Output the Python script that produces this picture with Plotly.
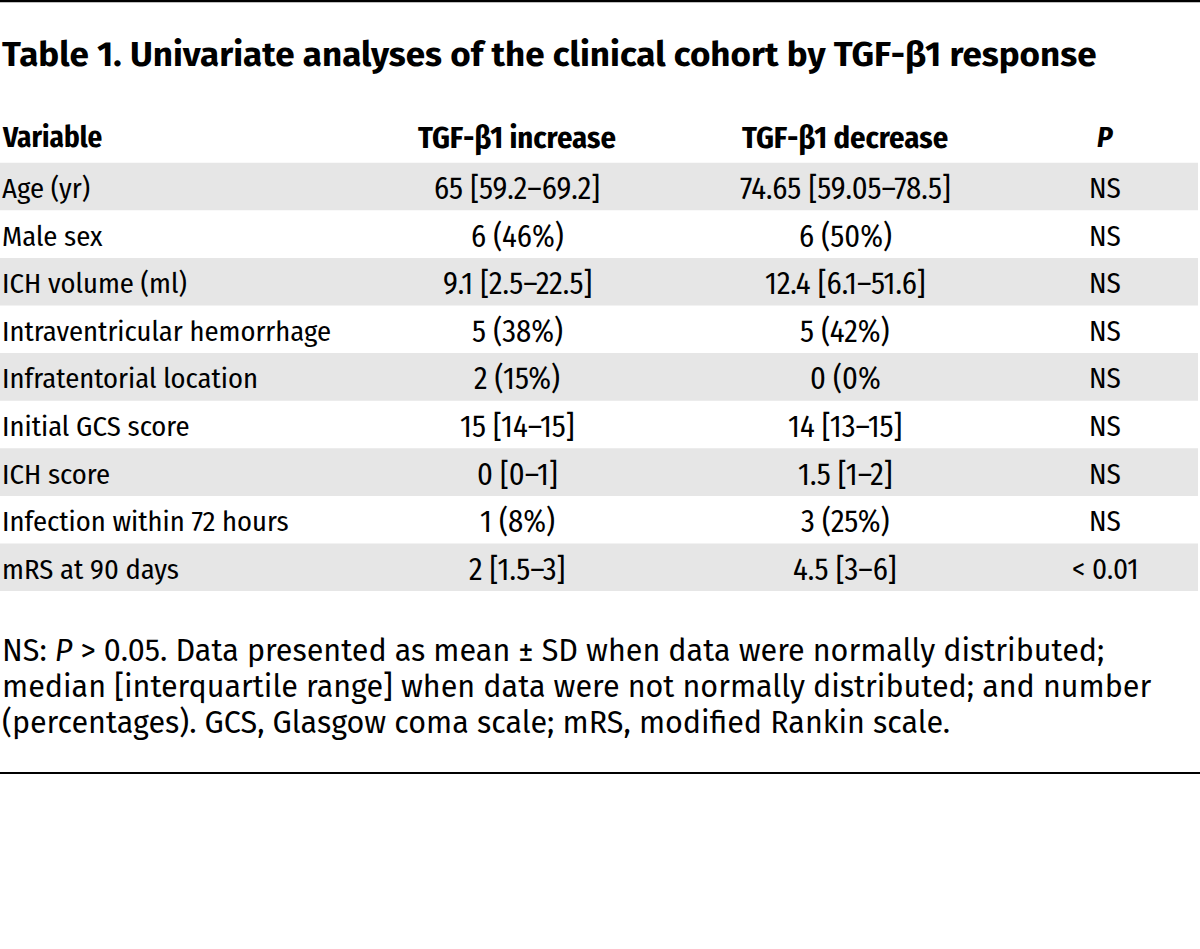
import plotly.graph_objects as go

title = "Table 1. Univariate analyses of the clinical cohort by TGF-β1 response"
headers = ["Variable", "TGF-β1 increase", "TGF-β1 decrease", "<i>P</i>"]
variables = ["Age (yr)", "Male sex", "ICH volume (ml)", "Intraventricular hemorrhage",
             "Infratentorial location", "Initial GCS score", "ICH score",
             "Infection within 72 hours", "mRS at 90 days"]
increase = ["65 [59.2–69.2]", "6 (46%)", "9.1 [2.5–22.5]", "5 (38%)", "2 (15%)",
            "15 [14–15]", "0 [0–1]", "1 (8%)", "2 [1.5–3]"]
decrease = ["74.65 [59.05–78.5]", "6 (50%)", "12.4 [6.1–51.6]", "5 (42%)", "0 (0%",
            "14 [13–15]", "1.5 [1–2]", "3 (25%)", "4.5 [3–6]"]
p_values = ["NS", "NS", "NS", "NS", "NS", "NS", "NS", "NS", "< 0.01"]
footnote = ["NS: <i>P</i> > 0.05. Data presented as mean ± SD when data were normally distributed;",
            "median [interquartile range] when data were not normally distributed; and number",
            "(percentages). GCS, Glasgow coma scale; mRS, modified Rankin scale."]

W, H = 1200, 949
COND = "Fira Sans Condensed, Roboto Condensed, sans-serif"
FOOT = "Fira Sans, Open Sans, sans-serif"
col_x = [0, 517, 845, 1105]
col_anchor = ["left", "center", "center", "center"]
col_size = [28.5, 30.5, 30.5, 29]
header_size = [29, 30.5, 30.5, 29]
row0_y = 186.5
row_h = 47.6
header_y = 137
band_color = "#e6e6e6"

fig = go.Figure()
fig.add_trace(go.Scatter(x=[0, W], y=[0, H], mode="markers", marker=dict(opacity=0),
                         hoverinfo="skip", showlegend=False))

shapes = []
annotations = []

# top and bottom rules
shapes.append(dict(type="line", x0=0, x1=W, y0=1, y1=1, line=dict(color="#000", width=2.5), layer="above"))
shapes.append(dict(type="line", x0=0, x1=W, y0=773, y1=773, line=dict(color="#000", width=2), layer="above"))

annotations.append(dict(x=0, y=54, text="<b>" + title + "</b>", xanchor="left", yanchor="middle",
                        showarrow=False, font=dict(family=FOOT, size=35, color="#000")))

for j, h in enumerate(headers):
    annotations.append(dict(x=col_x[j], y=header_y, text="<b>" + h + "</b>", xanchor=col_anchor[j],
                            yanchor="middle", showarrow=False,
                            font=dict(family=COND, size=header_size[j], color="#000")))

for i in range(len(variables)):
    yc = row0_y + i * row_h
    if i % 2 == 0:
        shapes.append(dict(type="rect", x0=0, x1=W - 2, y0=yc - row_h / 2, y1=yc + row_h / 2,
                           fillcolor=band_color, line=dict(width=0), layer="below"))
    vals = [variables[i], increase[i], decrease[i], p_values[i]]
    for j, v in enumerate(vals):
        annotations.append(dict(x=col_x[j], y=yc + 2, text=v, xanchor=col_anchor[j], yanchor="middle",
                                showarrow=False, font=dict(family=COND, size=col_size[j], color="#000")))

for k, line in enumerate(footnote):
    annotations.append(dict(x=0, y=650 + k * 36, text=line, xanchor="left", yanchor="middle",
                            showarrow=False, font=dict(family=FOOT, size=30.5, color="#000")))

fig.update_layout(width=W, height=H, margin=dict(l=0, r=0, t=0, b=0),
                  paper_bgcolor="white", plot_bgcolor="white",
                  xaxis=dict(range=[0, W], visible=False, fixedrange=True),
                  yaxis=dict(range=[H, 0], visible=False, fixedrange=True),
                  shapes=shapes, annotations=annotations, showlegend=False)
fig.write_html("out.html", config={"displayModeBar": False},
               post_script="document.body.style.margin='0';")
